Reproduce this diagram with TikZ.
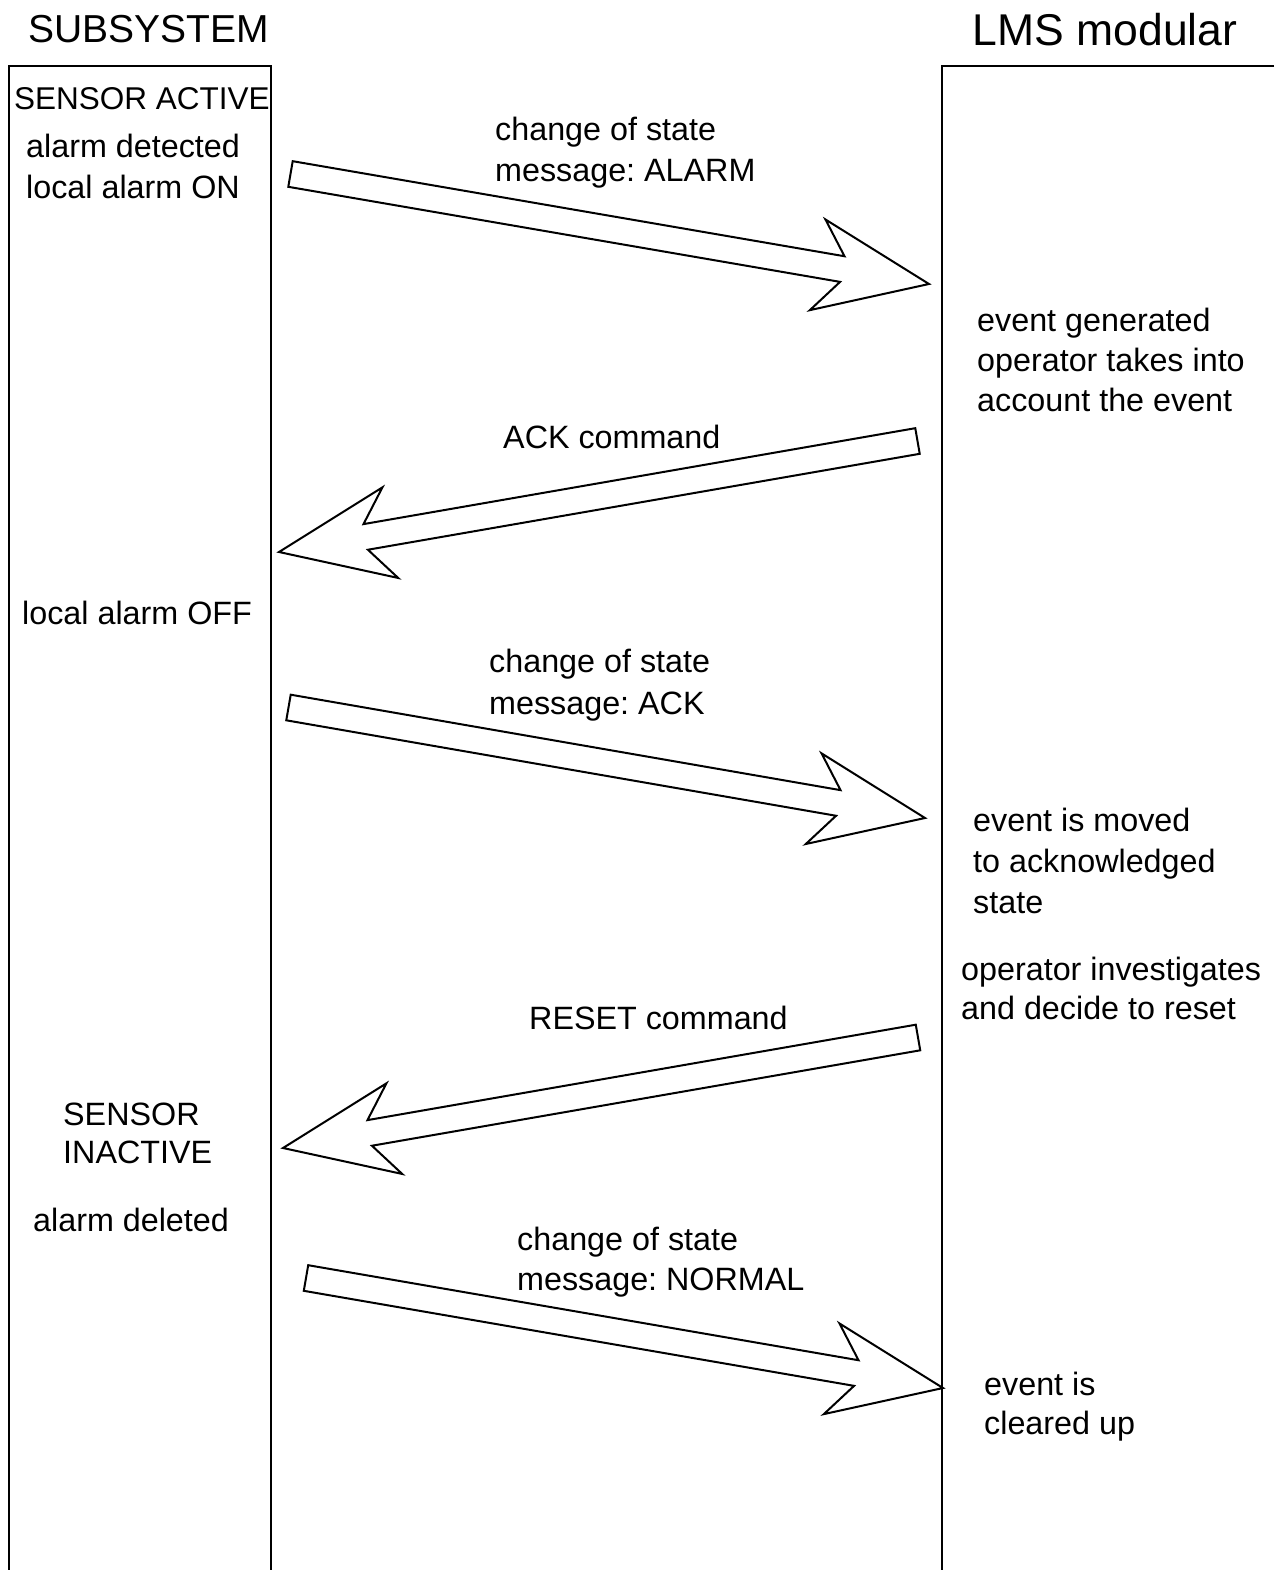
\documentclass[tikz,border=0pt]{standalone}
\usepackage{fontspec}
\setmainfont{Liberation Sans}
\usetikzlibrary{calc}
\frenchspacing

% hollow block arrow from tail coordinate #1 to tip coordinate #2
\newcommand{\blockarrow}[2]{%
  \draw[bigarrow] ($(#1)!13pt!90:(#2)$) -- ($(#2)!88pt!(#1)!13pt!-90:(#1)$)
    -- ($(#2)!113pt!(#1)!46pt!-90:(#1)$) -- (#2)
    -- ($(#2)!113pt!(#1)!46pt!90:(#1)$) -- ($(#2)!88pt!(#1)!13pt!90:(#1)$)
    -- ($(#1)!13pt!-90:(#2)$) -- cycle;}

\begin{document}
\begin{tikzpicture}[x=1pt, y=-1pt,
    lbl/.style={font=\fontsize{32.3}{40}\selectfont, inner sep=0pt,
                align=left, anchor=base west},
    hdr/.style={inner sep=0pt, anchor=base},
    lane/.style={line width=2pt},
    bigarrow/.style={draw=black, line width=2pt, fill=white, line join=miter}
  ]
  \useasboundingbox (0,0) rectangle (1274,1570);

  % lanes
  \node[hdr, font=\fontsize{39}{47}\selectfont] (sub) at (149,43) {SUBSYSTEM};
  \node[hdr, font=\fontsize{44.5}{52}\selectfont] (lms) at (1105,46) {LMS modular};
  \draw[lane] (9,1570) -- (9,66) -- (271,66) -- (271,1570);
  \draw[lane] (1274,66) -- (942,66) -- (942,1570);

  % subsystem side (multi-line texts are placed by their last line)
  \node[lbl, font=\fontsize{31.5}{40}\selectfont] (sact) at (14,110) {SENSOR ACTIVE};
  \node[lbl, font=\fontsize{32.3}{41}\selectfont] (adet) at (26,199) {alarm detected\\local alarm ON};
  \node[lbl] (aoff) at (22,624) {local alarm OFF};
  \node[lbl, font=\fontsize{32.3}{38}\selectfont] (sinact) at (63,1163) {SENSOR\\INACTIVE};
  \node[lbl] (adel) at (33,1231) {alarm deleted};

  % LMS side
  \node[lbl] (egen) at (977,411) {event generated\\operator takes into\\account the event};
  \node[lbl, font=\fontsize{32.3}{41}\selectfont] (emov) at (973,913) {event is moved\\to acknowledged\\state};
  \node[lbl, font=\fontsize{32.3}{39}\selectfont] (oinv) at (961,1019) {operator investigates\\and decide to reset};
  \node[lbl, font=\fontsize{32.3}{39}\selectfont] (eclr) at (984,1434) {event is\\cleared up};

  % messages
  \node[lbl, font=\fontsize{32.3}{41}\selectfont] (m1) at (495,182) {change of state\\message: ALARM};
  \node[lbl] (m2) at (503,448) {ACK command};
  \node[lbl, font=\fontsize{32.3}{42}\selectfont] (m3) at (489,714) {change of state\\message: ACK};
  \node[lbl] (m4) at (529,1029) {RESET command};
  \node[lbl] (m5) at (517,1290) {change of state\\message: NORMAL};

  \coordinate (a1s) at (290.5,174);  \coordinate (a1e) at (929,284);
  \coordinate (a2s) at (917.5,441);  \coordinate (a2e) at (279,552);
  \coordinate (a3s) at (288.5,707.5); \coordinate (a3e) at (925,818);
  \coordinate (a4s) at (918,1037.5); \coordinate (a4e) at (283,1148);
  \coordinate (a5s) at (306,1278);   \coordinate (a5e) at (943,1388);
  \blockarrow{a1s}{a1e}
  \blockarrow{a2s}{a2e}
  \blockarrow{a3s}{a3e}
  \blockarrow{a4s}{a4e}
  \blockarrow{a5s}{a5e}
\end{tikzpicture}
\end{document}
